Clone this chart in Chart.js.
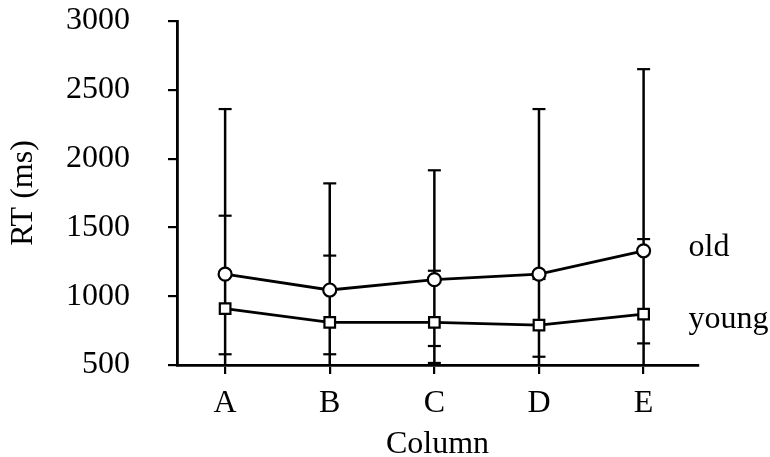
<!DOCTYPE html>
<html>
<head>
<meta charset="utf-8">
<script src="https://cdn.jsdelivr.net/npm/chart.js@4/dist/chart.umd.min.js"></script>
<style>
  html, body { margin: 0; padding: 0; background: #fff; }
  #rtChart { display: block; }
</style>
</head>
<body>
<canvas id="rtChart" width="770" height="457"></canvas>
<script>
// categories and values
const columns = ['A', 'B', 'C', 'D', 'E'];
const oldRT = [1160, 1045, 1120, 1160, 1330];
const youngRT = [910, 810, 810, 790, 870];
// error bar ends (lows under 500 run off the axis)
const oldHigh = [2360, 1820, 1915, 2360, 2650];
const oldLow = [-40, 270, 515, -40, 10];
const youngHigh = [1585, 1295, 1185, 1125, 1415];
const youngLow = [578, 578, 638, 560, 657];
const yTicks = [500, 1000, 1500, 2000, 2500, 3000];

const SERIF = "'Liberation Serif', 'Times New Roman', serif";

// error bars drawn behind the lines
const errorBars = {
    id: 'errorBars',
    beforeDatasetsDraw(chart) {
        const ctx = chart.ctx;
        const xs = chart.scales.x, ys = chart.scales.y;
        const area = chart.chartArea;
        const sets = [[oldLow, oldHigh], [youngLow, youngHigh]];
        ctx.save();
        ctx.beginPath();
        ctx.rect(area.left - 10, area.top - 2, area.right - area.left + 20, area.bottom - area.top + 2);
        ctx.clip();
        ctx.strokeStyle = '#000';
        columns.forEach((c, i) => {
            const x = xs.getPixelForValue(i);
            const vals = [];
            sets.forEach(s => { vals.push(s[0][i], s[1][i]); });
            const top = ys.getPixelForValue(Math.max(...vals));
            const bot = ys.getPixelForValue(Math.min(...vals));
            ctx.lineWidth = 2.5;
            ctx.beginPath();
            ctx.moveTo(x, top);
            ctx.lineTo(x, Math.min(bot, area.bottom));
            ctx.stroke();
            ctx.lineWidth = 2.2;
            vals.forEach(v => {
                if (v < ys.min) return;
                const y = ys.getPixelForValue(v);
                ctx.beginPath();
                ctx.moveTo(x - 6.5, y);
                ctx.lineTo(x + 6.5, y);
                ctx.stroke();
            });
        });
        ctx.restore();
    }
};

// series names next to the last points
const seriesNames = {
    id: 'seriesNames',
    afterDatasetsDraw(chart) {
        const ctx = chart.ctx;
        const xs = chart.scales.x, ys = chart.scales.y;
        const last = columns.length - 1;
        ctx.save();
        ctx.fillStyle = '#000';
        ctx.font = '32px ' + SERIF;
        ctx.textAlign = 'left';
        ctx.textBaseline = 'alphabetic';
        ctx.fillText('old', xs.getPixelForValue(last) + 45, ys.getPixelForValue(oldRT[last]) + 5);
        ctx.fillText('young', xs.getPixelForValue(last) + 45, ys.getPixelForValue(youngRT[last]) + 14);
        ctx.restore();
    }
};

const ctx = document.getElementById('rtChart').getContext('2d');
const myChart = new Chart(ctx, {
    type: 'line',
    data: {
        datasets: [{
            label: 'old',
            data: oldRT.map((v, i) => ({ x: i, y: v })),
            borderColor: '#000',
            borderWidth: 2.8,
            pointStyle: 'circle',
            pointRadius: 6.5,
            pointBorderWidth: 2.2,
            pointBackgroundColor: '#fff',
            pointBorderColor: '#000',
            tension: 0
        }, {
            label: 'young',
            data: youngRT.map((v, i) => ({ x: i, y: v })),
            borderColor: '#000',
            borderWidth: 2.8,
            pointStyle: 'rect',
            pointRadius: 7.5,
            pointBorderWidth: 2.2,
            pointBackgroundColor: '#fff',
            pointBorderColor: '#000',
            tension: 0
        }]
    },
    options: {
        responsive: false,
        animation: false,
        layout: { padding: { top: 21, right: 72, bottom: 0, left: 0 } },
        plugins: { legend: { display: false }, tooltip: { enabled: false } },
        scales: {
            x: {
                type: 'linear',
                min: -0.46,
                max: 4.52,
                afterBuildTicks: s => { s.ticks = columns.map((c, i) => ({ value: i })); },
                afterFit: s => { s.height = 92; s.paddingLeft = 0; s.paddingRight = 0; },
                grid: { drawOnChartArea: false, drawTicks: true, tickLength: 9, color: '#000', lineWidth: 2.2 },
                border: { display: true, color: '#000', width: 2.8 },
                ticks: {
                    color: '#000',
                    padding: 10,
                    font: { family: SERIF, size: 32 },
                    callback: v => columns[v]
                },
                title: {
                    display: true,
                    text: 'Column',
                    color: '#000',
                    font: { family: SERIF, size: 32, lineHeight: 0.8 },
                    padding: { top: 0, bottom: 0 }
                }
            },
            y: {
                min: 500,
                max: 3000,
                afterFit: s => { s.width = 177; s.paddingTop = 0; s.paddingBottom = 0; },
                grid: { drawOnChartArea: false, drawTicks: true, tickLength: 9, color: '#000', lineWidth: 2.2 },
                border: { display: true, color: '#000', width: 2.8 },
                ticks: {
                    stepSize: 250,
                    color: '#000',
                    padding: 38,
                    font: { family: SERIF, size: 32 },
                    callback: v => yTicks.includes(v) ? v : ''
                },
                title: {
                    display: true,
                    text: 'RT (ms)',
                    color: '#000',
                    font: { family: SERIF, size: 32 },
                    padding: { top: 4, bottom: 0 }
                }
            }
        }
    },
    plugins: [errorBars, seriesNames]
});
</script>
</body>
</html>
